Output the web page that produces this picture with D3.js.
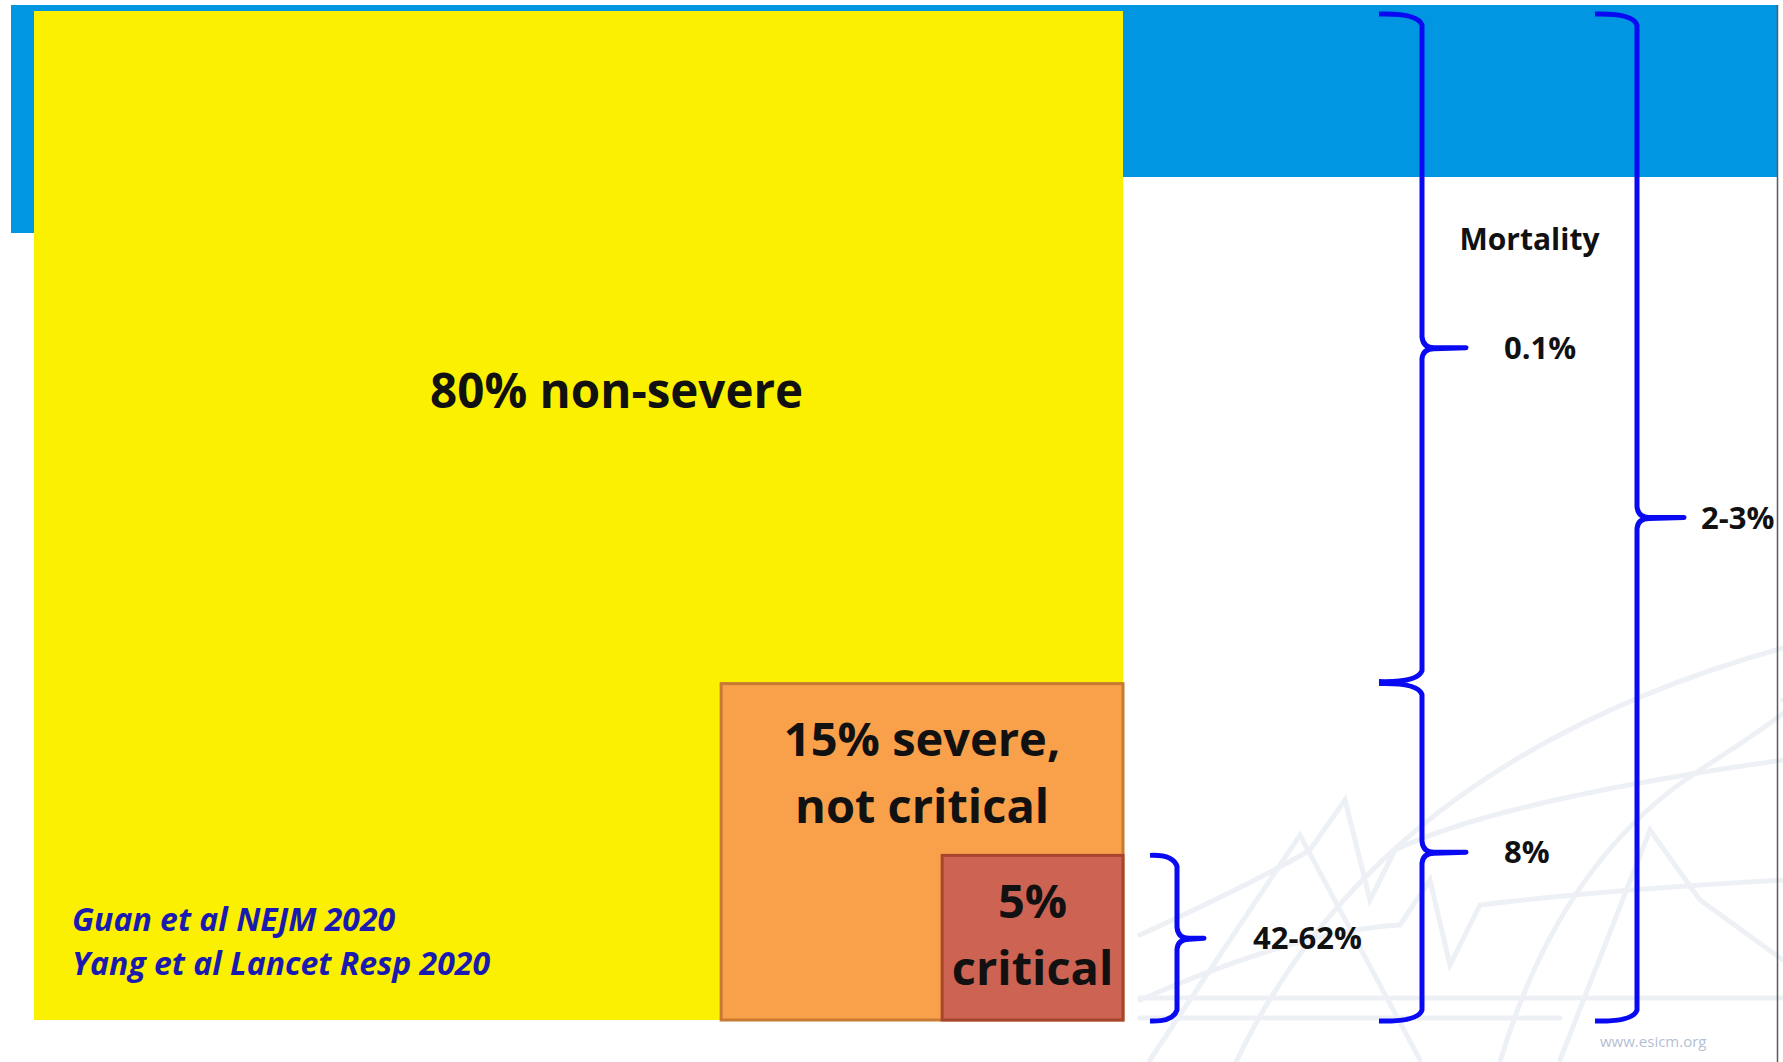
<!DOCTYPE html>
<html>
<head>
<meta charset="utf-8">
<script src="https://cdn.jsdelivr.net/npm/d3@7"></script>
<style>
  html, body { margin: 0; padding: 0; background: #ffffff; }
  svg { display: block; }
</style>
</head>
<body>
<svg id="chart" width="1783" height="1062"></svg>
<script>
// ---- data -------------------------------------------------------------
// Severity groups, listed from the outermost box to the innermost one
const severityGroups = ["non-severe", "severe, not critical", "critical"];
const severityShares = [80, 15, 5];            // % of patients
const severityLabels = [["80% non-severe"], ["15% severe,", "not critical"], ["5%", "critical"]];

// Mortality brackets: which groups each bracket spans, and its label
const mortalityGroups = [
  ["non-severe"],
  ["severe, not critical", "critical"],
  ["critical"],
  ["non-severe", "severe, not critical", "critical"]
];
const mortalityLabels = ["0.1%", "8%", "42-62%", "2-3%"];
const mortalityColumn = [1, 1, 0, 2];          // bracket column (left to right)
const mortalityTitle = "Mortality";

const sources = ["Guan et al NEJM 2020", "Yang et al Lancet Resp 2020"];
const siteLabel = "www.esicm.org";

// ---- layout -----------------------------------------------------------
const W = 1783, H = 1062;
const panel = { left: 34, top: 11, right: 1123, bottom: 1020 };
const svg = d3.select("#chart");
const FONT = "'Open Sans', 'Noto Sans', sans-serif";

// Each box grows from the bottom-right corner; its size encodes the share of
// patients at or above that severity. A small floor keeps the smallest box legible.
const lowerBound = severityShares.map((_, i) => d3.sum(severityShares.slice(i + 1)));
const upperBound = severityShares.map((s, i) => lowerBound[i] + s);

const xSize = d3.scalePow().exponent(0.65).domain([-0.41, 100])
  .range([0, panel.right - panel.left]);
const ySize = d3.scalePow().exponent(0.8).domain([-4.67, 100])
  .range([0, panel.bottom - panel.top]);

const boxLeft = v => panel.right - xSize(v);
const boxTop = v => v <= 0 ? panel.bottom : panel.bottom - ySize(v);

// ---- slide background ---------------------------------------------------
const blue = "#0096e2";
svg.append("rect").attr("x", 11).attr("y", 5).attr("width", 1777 - 11).attr("height", 172).attr("fill", blue);
svg.append("rect").attr("x", 11).attr("y", 5).attr("width", 24).attr("height", 228).attr("fill", blue);

// faint logo watermark, bottom right
const wm = svg.append("g").attr("fill", "none").attr("stroke", "#edf1f6")
  .attr("stroke-width", 5).attr("stroke-linecap", "round");
[
  "M1236,1062 Q1380,760 1783,648",
  "M1500,1062 Q1560,860 1700,770 T1783,700",
  "M1140,1000 Q1300,930 1400,925 L1430,880 L1450,965 L1480,905 Q1600,890 1783,880",
  "M1140,935 Q1260,880 1310,850 L1345,800 L1370,900 L1395,850 Q1500,800 1783,760",
  "M1150,1060 L1300,835 L1420,1060",
  "M1560,1060 L1650,830 L1700,900 L1783,960",
  "M1140,998 L1783,998",
  "M1140,1018 L1560,1018"
].forEach(d => wm.append("path").attr("d", d));

svg.append("text").attr("x", 1600).attr("y", 1047)
  .attr("font-family", FONT).attr("font-size", 15).attr("fill", "#b3c0d2")
  .text(siteLabel);

// ---- severity boxes ---------------------------------------------------
const boxFill = ["#faf000", "#f9a04b", "#cd6353"];
const boxStroke = ["none", "#c87a30", "#a8452f"];

const boxes = severityGroups.map((g, i) => {
  const v = upperBound[i];
  const x0 = boxLeft(v), y0 = boxTop(v);
  return { group: g, x: x0, y: y0, w: panel.right - x0, h: panel.bottom - y0, i };
});

svg.append("g").selectAll("rect").data(boxes).join("rect")
  .attr("x", d => d.x).attr("y", d => d.y)
  .attr("width", d => d.w).attr("height", d => d.h)
  .attr("fill", d => boxFill[d.i])
  .attr("stroke", d => boxStroke[d.i])
  .attr("stroke-width", 3);

// box captions
const captionPos = [
  { fx: 0.535, dy: 397, size: 47.5, lh: 0 },
  { fx: 0.5, dy: 72, size: 47, lh: 67 },
  { fx: 0.5, dy: 63, size: 47, lh: 67 }
];
boxes.forEach(b => {
  const p = captionPos[b.i];
  const t = svg.append("text")
    .attr("font-family", FONT).attr("font-weight", 700)
    .attr("font-size", p.size).attr("fill", "#111")
    .attr("text-anchor", "middle");
  severityLabels[b.i].forEach((line, k) => {
    t.append("tspan").attr("x", b.x + b.w * p.fx).attr("y", b.y + p.dy + k * p.lh).text(line);
  });
});

// sources
const src = svg.append("text").attr("font-family", FONT).attr("font-weight", 700)
  .attr("font-style", "italic").attr("font-size", 32).attr("fill", "#1a1ab0");
sources.forEach((s, k) => src.append("tspan").attr("x", 72).attr("y", 931 + k * 44).text(s));

// ---- mortality brackets ------------------------------------------------
const columns = [
  { xv: 1177, hook: 27, tip: 27, dx: 76 },
  { xv: 1422, hook: 43, tip: 44, dx: 82 },
  { xv: 1637, hook: 42, tip: 47, dx: 64 }
];

function bracePath(xv, y0, y1, hook, tip) {
  const ym = (y0 + y1) / 2, r = 12, c = 11;
  const p = d3.path();
  p.moveTo(xv - hook, y0 + 1);
  p.quadraticCurveTo(xv - 4, y0, xv, y0 + r);
  p.lineTo(xv, ym - c);
  p.quadraticCurveTo(xv + 1, ym, xv + 12, ym);
  p.lineTo(xv + tip, ym);
  p.lineTo(xv + 12, ym + 1);
  p.quadraticCurveTo(xv + 1, ym + 1, xv, ym + c);
  p.lineTo(xv, y1 - r);
  p.quadraticCurveTo(xv - 4, y1, xv - hook, y1 - 1);
  return p.toString();
}

const brackets = mortalityGroups.map((gs, i) => {
  const idx = gs.map(g => severityGroups.indexOf(g));
  const hi = d3.max(idx, j => upperBound[j]);
  const lo = d3.min(idx, j => lowerBound[j]);
  const y0 = hi >= 100 ? panel.top + 2 : boxTop(hi) - 1;
  const y1 = lo <= 0 ? panel.bottom + 2 : boxTop(lo) - 1;
  return { label: mortalityLabels[i], col: columns[mortalityColumn[i]], y0, y1 };
});

const bg = svg.append("g");
bg.selectAll("path").data(brackets).join("path")
  .attr("d", d => bracePath(d.col.xv, d.y0, d.y1, d.col.hook, d.col.tip))
  .attr("fill", "none").attr("stroke", "#0a0af2").attr("stroke-width", 5)
  .attr("stroke-linejoin", "round").attr("stroke-linecap", "butt");

bg.selectAll("text").data(brackets).join("text")
  .attr("x", d => d.col.xv + d.col.dx)
  .attr("y", d => (d.y0 + d.y1) / 2 + 11)
  .attr("font-family", FONT).attr("font-weight", 700).attr("font-size", 31)
  .attr("fill", "#111")
  .text(d => d.label);

svg.append("text")
  .attr("x", (columns[1].xv + columns[2].xv) / 2).attr("y", 250)
  .attr("text-anchor", "middle")
  .attr("font-family", FONT).attr("font-weight", 700).attr("font-size", 30)
  .attr("fill", "#111").text(mortalityTitle);

// right edge of the slide
svg.append("line").attr("x1", 1777.5).attr("x2", 1777.5).attr("y1", 5).attr("y2", H)
  .attr("stroke", "#5a5a5a").attr("stroke-width", 1.5);
</script>
</body>
</html>
